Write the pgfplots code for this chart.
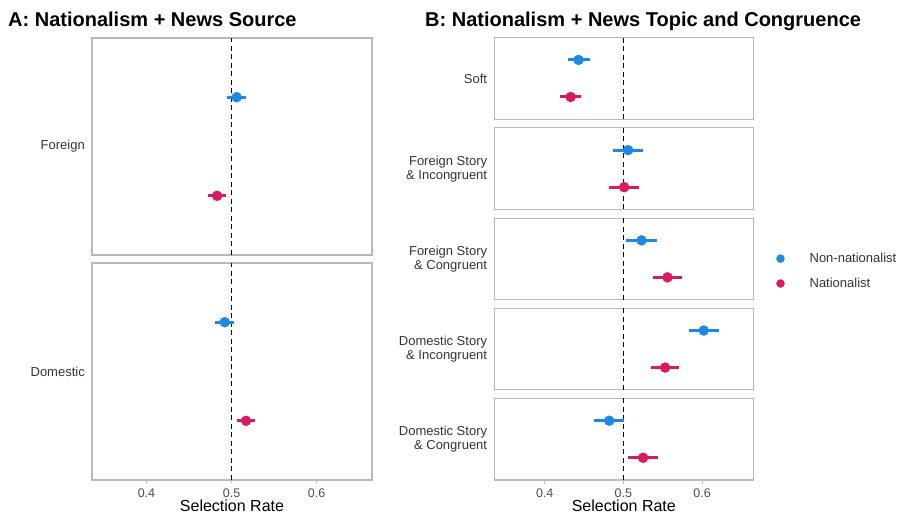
\documentclass[border=0pt]{standalone}
\usepackage{fontspec}
\setmainfont{Liberation Sans}
\usepackage{pgfplots}
\pgfplotsset{compat=1.18}
\definecolor{cblue}{HTML}{1E88E5}
\definecolor{cred}{HTML}{D81B60}
\definecolor{framec}{HTML}{B8B8B8}
\definecolor{ticklab}{HTML}{4D4D4D}
\definecolor{stripc}{HTML}{333333}
\pgfplotsset{
 facet/.style={scale only axis, clip=false, xmin=0.336, xmax=0.665, ymin=0.4, ymax=2.6,
   ytick=\empty, xtick=\empty, axis line style={framec, line width=1.1bp}},
 bottomfacet/.style={xtick={0.4,0.5,0.6}, xticklabels={0.4,0.5,0.6},
   xtick pos=bottom, tick align=outside, major tick length=3.5bp,
   every tick/.style={framec, line width=1.1bp},
   xticklabel style={font=\fontsize{12.5bp}{14bp}\selectfont, text=ticklab, yshift=-2bp},
   xlabel={Selection Rate}, xlabel style={font=\fontsize{16bp}{18bp}\selectfont, yshift=2.5bp, inner sep=1bp}},
 refline/.style={black, line width=1.8bp, dash pattern=on 5bp off 3.5bp},
 blueser/.style={only marks, mark=*, mark size=5bp, color=cblue,
   error bars/.cd, x dir=both, x explicit, error mark=none,
   error bar style={line width=3bp, cblue}},
 redser/.style={only marks, mark=*, mark size=5bp, color=cred,
   error bars/.cd, x dir=both, x explicit, error mark=none,
   error bar style={line width=3bp, cred}},
}
\newcommand{\striplab}[1]{\node[anchor=east, inner sep=0pt, align=right, text=stripc,
   font=\fontsize{13bp}{14bp}\selectfont] at ([xshift=-7bp]rel axis cs:0,0.5) {#1};}
\begin{document}
\begin{tikzpicture}
\useasboundingbox (0,0) rectangle (903bp,517bp);
\node[anchor=base west, inner sep=0pt, font=\fontsize{20bp}{22bp}\selectfont\bfseries] at (8bp,490bp) {A: Nationalism + News Source};
\node[anchor=base west, inner sep=0pt, font=\fontsize{20bp}{22bp}\selectfont\bfseries] at (425bp,490bp) {B: Nationalism + News Topic and Congruence};

% Panel A
\begin{axis}[facet, width=280bp, height=217bp, at={(92bp,262bp)}, anchor=south west]
\addplot[refline] coordinates {(0.5,0.4) (0.5,2.6)};
\addplot[blueser] coordinates {(0.506,2) +- (0.011,0)};
\addplot[redser] coordinates {(0.483,1) +- (0.011,0)};
\striplab{Foreign}
\end{axis}
\begin{axis}[facet, bottomfacet, width=280bp, height=217bp, at={(92bp,37bp)}, anchor=south west]
\addplot[refline] coordinates {(0.5,0.4) (0.5,2.6)};
\addplot[blueser] coordinates {(0.492,2) +- (0.011,0)};
\addplot[redser] coordinates {(0.517,1) +- (0.011,0)};
\striplab{Domestic}
\end{axis}

% Panel B
\begin{axis}[facet, width=259bp, height=81.5bp, at={(494.3bp,397.8bp)}, anchor=south west]
\addplot[refline] coordinates {(0.5,0.4) (0.5,2.6)};
\addplot[blueser] coordinates {(0.443,2) +- (0.014,0)};
\addplot[redser] coordinates {(0.433,1) +- (0.013,0)};
\striplab{Soft}
\end{axis}
\begin{axis}[facet, width=259bp, height=81.5bp, at={(494.3bp,307.6bp)}, anchor=south west]
\addplot[refline] coordinates {(0.5,0.4) (0.5,2.6)};
\addplot[blueser] coordinates {(0.506,2) +- (0.019,0)};
\addplot[redser] coordinates {(0.501,1) +- (0.019,0)};
\striplab{Foreign Story\\\& Incongruent}
\end{axis}
\begin{axis}[facet, width=259bp, height=81.5bp, at={(494.3bp,217.4bp)}, anchor=south west,
  legend style={draw=none, fill=none, at={(axis description cs:1.07,0.35)}, anchor=west,
    font=\fontsize{13bp}{15bp}\selectfont, row sep=10bp, text=stripc},
  legend cell align=left,
  legend image code/.code={\path (-0.2cm,0) (0.95cm,0); \draw[#1, mark size=4bp] plot coordinates {(0cm,0cm)};}]
\addplot[refline, forget plot] coordinates {(0.5,0.4) (0.5,2.6)};
\addplot[blueser] coordinates {(0.523,2) +- (0.020,0)};
\addlegendentry{Non-nationalist}
\addplot[redser] coordinates {(0.556,1) +- (0.019,0)};
\addlegendentry{Nationalist}
\striplab{Foreign Story\\\& Congruent}
\end{axis}
\begin{axis}[facet, width=259bp, height=81.5bp, at={(494.3bp,127.2bp)}, anchor=south west]
\addplot[refline] coordinates {(0.5,0.4) (0.5,2.6)};
\addplot[blueser] coordinates {(0.602,2) +- (0.019,0)};
\addplot[redser] coordinates {(0.553,1) +- (0.018,0)};
\striplab{Domestic Story\\\& Incongruent}
\end{axis}
\begin{axis}[facet, bottomfacet, width=259bp, height=81.5bp, at={(494.3bp,37bp)}, anchor=south west]
\addplot[refline] coordinates {(0.5,0.4) (0.5,2.6)};
\addplot[blueser] coordinates {(0.482,2) +- (0.019,0)};
\addplot[redser] coordinates {(0.525,1) +- (0.019,0)};
\striplab{Domestic Story\\\& Congruent}
\end{axis}
\end{tikzpicture}
\end{document}
